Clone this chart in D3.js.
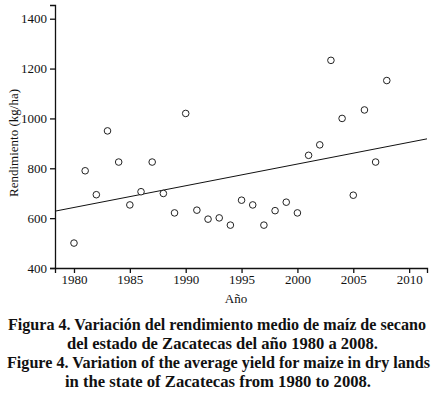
<!DOCTYPE html>
<html>
<head>
<meta charset="utf-8">
<script src="https://cdn.jsdelivr.net/npm/d3@7"></script>
<style>
  body { margin: 0; background: #fff; }
  .axis path, .axis line { stroke: #111; stroke-width: 1.3; }
</style>
</head>
<body>
<svg id="chart" width="448" height="398"></svg>
<script>
// data
const years = d3.range(1980, 2009);
const yields = [500, 790, 694, 950, 825, 653, 706, 825, 699, 621,
                1020, 632, 596, 601, 572, 672, 653, 572, 630, 664,
                621, 852, 894, 1233, 1000, 692, 1034, 825, 1152];
const xTicks = [1980, 1985, 1990, 1995, 2000, 2005, 2010];
const yTicks = [400, 600, 800, 1000, 1200, 1400];
const captionLines = [
  "Figura 4. Variación del rendimiento medio de maíz de secano",
  "del estado de Zacatecas del año 1980 a 2008.",
  "Figure 4. Variation of the average yield for maize in dry lands",
  "in the state of Zacatecas from 1980 to 2008."
];
const captionSpan = [[8, 426], [67, 378], [7, 430], [65, 371]];

const SERIF = "'Liberation Serif', 'Times New Roman', Times, serif";
const svg = d3.select("#chart");
const M = { top: 5, left: 55, right: 21 };
const W = 448;

const x = d3.scaleLinear().domain([1978.3, 2011.6]).range([M.left, W - M.right]);
const y = d3.scaleLinear().domain([400, 1455]).range([268, M.top]);

function serifTicks(g) {
  g.selectAll("text").style("font-family", SERIF).style("font-size", "13px").attr("fill", "#111");
}

svg.append("g").attr("class", "axis")
  .attr("transform", "translate(0,268)")
  .call(d3.axisBottom(x).tickValues(xTicks).tickFormat(d3.format("d")).tickSizeOuter(0).tickSize(5).tickPadding(2))
  .call(serifTicks);

svg.append("g").attr("class", "axis")
  .attr("transform", `translate(${M.left},0)`)
  .call(d3.axisLeft(y).tickValues(yTicks).tickFormat(d3.format("d")).tickSizeOuter(0).tickSize(5))
  .call(serifTicks);

// least squares trend line
const mx = d3.mean(years), my = d3.mean(yields);
const slope = d3.sum(years, (v, i) => (v - mx) * (yields[i] - my)) / d3.sum(years, v => (v - mx) ** 2);
const icpt = my - slope * mx;
const [x0, x1] = x.domain();
svg.append("line")
  .attr("x1", x(x0)).attr("y1", y(icpt + slope * x0))
  .attr("x2", x(x1)).attr("y2", y(icpt + slope * x1))
  .attr("stroke", "#111").attr("stroke-width", 1);

svg.selectAll(".pt").data(years).join("circle")
  .attr("class", "pt")
  .attr("cx", d => x(d)).attr("cy", (d, i) => y(yields[i]))
  .attr("r", 3.3).attr("fill", "#fff").attr("stroke", "#222").attr("stroke-width", 1);

svg.append("text").attr("transform", "translate(18,143) rotate(-90)")
  .attr("text-anchor", "middle").style("font-family", SERIF).style("font-size", "13px")
  .attr("fill", "#111").text("Rendimiento (kg/ha)");
svg.append("text").attr("x", 236).attr("y", 303)
  .attr("text-anchor", "middle").style("font-family", SERIF).style("font-size", "13px")
  .attr("fill", "#111").text("Año");

svg.selectAll(".cap").data(captionLines).join("text")
  .attr("class", "cap")
  .attr("x", (d, i) => captionSpan[i][0]).attr("y", (d, i) => 330 + i * 19)
  .attr("textLength", (d, i) => captionSpan[i][1] - captionSpan[i][0])
  .attr("lengthAdjust", "spacingAndGlyphs")
  .style("font-family", SERIF).style("font-weight", "bold").style("font-size", "16px")
  .attr("fill", "#111")
  .text(d => d);
</script>
</body>
</html>
